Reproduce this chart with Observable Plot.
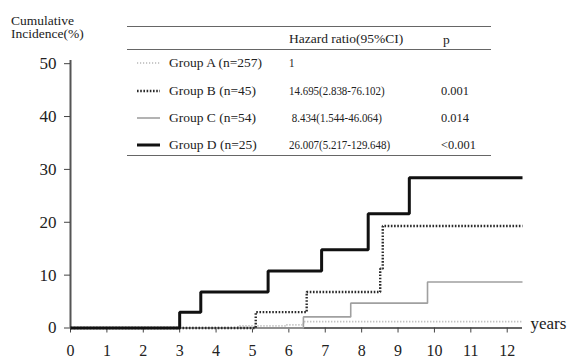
<!DOCTYPE html>
<html>
<head>
<meta charset="utf-8">
<script src="https://cdn.jsdelivr.net/npm/d3@7"></script>
<script src="https://cdn.jsdelivr.net/npm/@observablehq/plot@0.6"></script>
<style>
  html, body { margin: 0; padding: 0; background: #fff; }
  #wrap { position: relative; width: 574px; height: 358px; font-family: "Liberation Serif", "Times New Roman", serif; color: #222; }
  #wrap svg { position: absolute; left: 0; top: 0; }
  .t { position: absolute; font-size: 13.5px; line-height: 14px; white-space: pre; }
  .hl { position: absolute; height: 0; border-top: 1.6px solid #666; }
</style>
</head>
<body>
<div id="wrap"></div>
<script>
// ---- data ----
const groupNames = ["Group A (n=257)", "Group B (n=45)", "Group C (n=54)", "Group D (n=25)"];
const hazardRatios = ["1", "14.695(2.838-76.102)", " 8.434(1.544-46.064)", "26.007(5.217-129.648)"];
const pValues = ["", "0.001", "0.014", "<0.001"];
const tableHeader = ["Hazard ratio(95%CI)", "p"];
const yTitle = ["Cumulative", "Incidence(%)"];
const xAxisLabel = "years";

const timesA = [0, 4.6, 5.9, 6.4, 12.42];
const incA   = [0, 0.4, 0.6, 1.2, 1.2];
const timesB = [0, 5.09, 6.49, 8.51, 8.58, 12.42];
const incB   = [0, 3.0, 6.8, 11.2, 19.3, 19.3];
const timesC = [0, 6.4, 7.7, 9.81, 12.42];
const incC   = [0, 2.1, 4.7, 8.7, 8.7];
const timesD = [0, 3.0, 3.58, 5.43, 6.9, 8.18, 9.31, 12.42];
const incD   = [0, 3.0, 6.8, 10.8, 14.8, 21.6, 28.4, 28.4];

const xTicks = [0, 1, 2, 3, 4, 5, 6, 7, 8, 9, 10, 11, 12];
const yTicks = [0, 10, 20, 30, 40, 50];

// ---- styles per group ----
const styles = [
  {stroke: "#b8b8b8", strokeWidth: 1.6, strokeDasharray: "1.2,1.8"},
  {stroke: "#2a2a2a", strokeWidth: 2.4, strokeDasharray: "1.6,1.6"},
  {stroke: "#a0a0a0", strokeWidth: 1.6, strokeDasharray: null},
  {stroke: "#111", strokeWidth: 3, strokeDasharray: null}
];

const series = [[timesA, incA], [timesB, incB], [timesC, incC], [timesD, incD]]
  .map(([t, v], i) => t.map((x, j) => ({group: groupNames[i], t: x, v: v[j]})));

const xMax = 12.42, yMax = 50.6;

const lineMark = (data, s) => Plot.line(data, {
  x: "t", y: "v", curve: "step-after",
  stroke: s.stroke, strokeWidth: s.strokeWidth,
  strokeDasharray: s.strokeDasharray || undefined,
  strokeLinecap: "butt", strokeLinejoin: "miter"
});

const chart = Plot.plot({
  width: 574, height: 358,
  marginLeft: 70, marginRight: 52, marginTop: 60, marginBottom: 30.5,
  x: {domain: [0, xMax]},
  y: {domain: [0, yMax]},
  style: {fontFamily: "'Liberation Serif', 'Times New Roman', serif", fontSize: "16px", color: "#222", background: "transparent"},
  marks: [
    Plot.ruleX([0], {stroke: "#555", strokeWidth: 2}),
    Plot.ruleY([0], {stroke: "#333", strokeWidth: 1.6}),
    Plot.axisY({ticks: yTicks, tickSize: 6, tickPadding: 8, label: null, fontSize: 17, stroke: "#444"}),
    Plot.axisX({ticks: xTicks, tickSize: 5, tickPadding: 12, label: null, fontSize: 16, stroke: "#444"}),
    lineMark(series[0], styles[0]),
    lineMark(series[2], styles[2]),
    lineMark(series[1], styles[1]),
    lineMark(series[3], styles[3]),
    Plot.text([xAxisLabel], {frameAnchor: "bottom-right", text: d => d, textAnchor: "start", dx: 8, dy: 1, fontSize: 17, fill: "#222"})
  ]
});

const wrap = document.getElementById("wrap");
wrap.appendChild(chart);

// ---- y title ----
function addText(txt, left, cy, extra = {}) {
  const d = document.createElement("div");
  d.className = "t";
  d.textContent = txt;
  d.style.left = left + "px";
  d.style.top = (cy - 7) + "px";
  Object.assign(d.style, extra);
  wrap.appendChild(d);
  return d;
}
addText(yTitle[0], 11, 20.7);
addText(yTitle[1], 11, 34.3);

// ---- legend table ----
function addRule(y, x0, x1) {
  const d = document.createElement("div");
  d.className = "hl";
  d.style.left = x0 + "px";
  d.style.width = (x1 - x0) + "px";
  d.style.top = y + "px";
  wrap.appendChild(d);
}
addRule(26, 127, 491);
addRule(48.5, 127, 491);
addRule(154.5, 127, 491);

addText(tableHeader[0], 289, 38.5);
addText(tableHeader[1], 443, 39.5);

const rowY = [62.7, 90.7, 118.3, 145];
const narrow = {transform: "scaleX(0.81)", transformOrigin: "0 50%"};
groupNames.forEach((g, i) => {
  const s = styles[i];
  const ns = "http://www.w3.org/2000/svg";
  const sw = document.createElementNS(ns, "svg");
  sw.setAttribute("width", 24); sw.setAttribute("height", 8);
  sw.style.position = "absolute";
  sw.style.left = "137px";
  sw.style.top = (rowY[i] - 4) + "px";
  const ln = document.createElementNS(ns, "line");
  ln.setAttribute("x1", 0); ln.setAttribute("x2", 23);
  ln.setAttribute("y1", 4); ln.setAttribute("y2", 4);
  ln.setAttribute("stroke", s.stroke);
  ln.setAttribute("stroke-width", s.strokeWidth);
  if (s.strokeDasharray) ln.setAttribute("stroke-dasharray", s.strokeDasharray);
  sw.appendChild(ln);
  wrap.appendChild(sw);
  addText(g, 169, rowY[i]);
  addText(hazardRatios[i], 289, rowY[i], narrow);
  if (pValues[i]) addText(pValues[i], 441, rowY[i], {transform: "scaleX(0.92)", transformOrigin: "0 50%"});
});
</script>
</body>
</html>
